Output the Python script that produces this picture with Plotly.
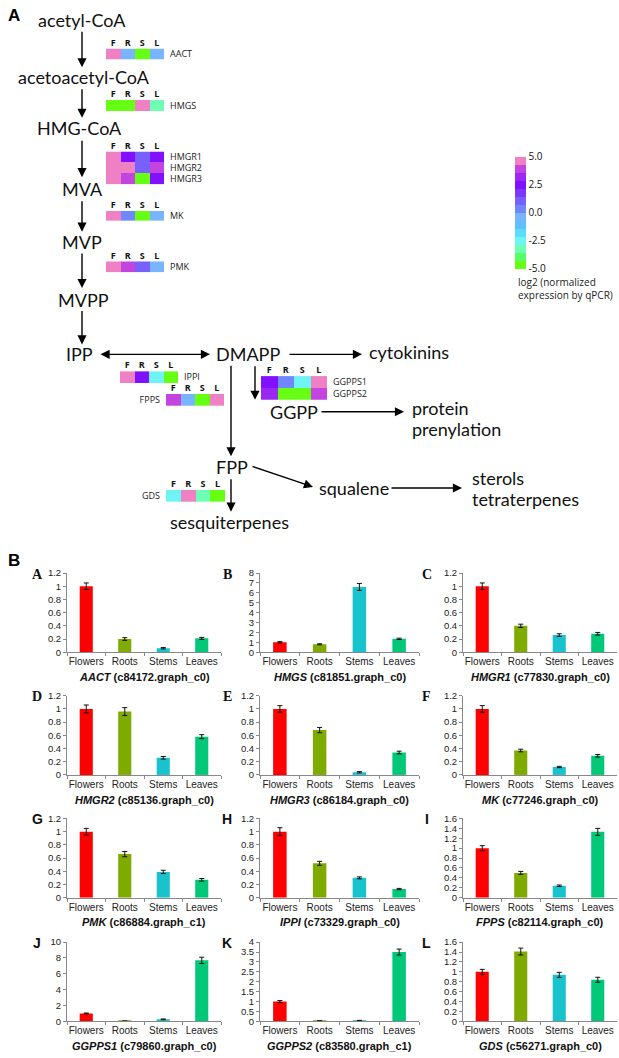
import plotly.graph_objects as go

W, H = 619, 1058


def X(px):
    return px / W


def Y(py):
    return 1 - py / H


# ---------------- Part A: heatmap data (log2 normalized expression) ----------------
samples = ["F", "R", "S", "L"]
AACT = [5.0, -0.5, -5.0, -0.5]
HMGS = [-4.8, -5.0, 5.0, -3.5]
HMGR1 = [5.0, 2.5, 1.2, 2.5]
HMGR2 = [5.0, 5.0, 1.2, 3.8]
HMGR3 = [5.0, 3.8, -5.0, 2.5]
MK = [5.0, 0.5, -5.0, -0.5]
PMK = [5.0, 3.8, 1.2, -0.5]
IPPI = [5.0, 2.5, -2.5, -5.0]
GGPPS1 = [2.5, 0.5, -2.5, 5.0]
GGPPS2 = [3.0, -5.0, -5.0, 3.8]
FPPS = [3.8, -0.5, -5.0, 5.0]
GDS = [-2.5, 5.0, -3.5, -5.0]

cbar_ticks = [-5.0, -2.5, 0.0, 2.5, 5.0]
cbar_labels = ["-5.0", "-2.5", "0.0", "2.5", "5.0"]

# ---------------- Part B: qPCR relative expression ----------------
tissues = ["Flowers", "Roots", "Stems", "Leaves"]
AACT_expr = [1.0, 0.20, 0.06, 0.21]
AACT_err = [0.05, 0.02, 0.01, 0.015]
HMGS_expr = [1.0, 0.80, 6.6, 1.35]
HMGS_err = [0.07, 0.05, 0.35, 0.07]
HMGR1_expr = [1.0, 0.40, 0.26, 0.28]
HMGR1_err = [0.05, 0.025, 0.02, 0.02]
HMGR2_expr = [1.0, 0.96, 0.26, 0.58]
HMGR2_err = [0.06, 0.06, 0.02, 0.03]
HMGR3_expr = [1.0, 0.68, 0.04, 0.34]
HMGR3_err = [0.05, 0.04, 0.01, 0.02]
MK_expr = [1.0, 0.37, 0.12, 0.29]
MK_err = [0.05, 0.02, 0.01, 0.02]
PMK_expr = [1.0, 0.66, 0.39, 0.27]
PMK_err = [0.05, 0.04, 0.025, 0.02]
IPPI_expr = [1.0, 0.52, 0.30, 0.13]
IPPI_err = [0.06, 0.03, 0.015, 0.01]
FPPS_expr = [1.0, 0.50, 0.24, 1.33]
FPPS_err = [0.05, 0.03, 0.015, 0.07]
GGPPS1_expr = [1.0, 0.03, 0.25, 7.7]
GGPPS1_err = [0.05, 0.01, 0.05, 0.4]
GGPPS2_expr = [1.0, 0.02, 0.04, 3.5]
GGPPS2_err = [0.05, 0.01, 0.01, 0.15]
GDS_expr = [1.0, 1.41, 0.94, 0.84]
GDS_err = [0.05, 0.07, 0.05, 0.05]

panel_letters = ["A", "B", "C", "D", "E", "F", "G", "H", "I", "J", "K", "L"]
panel_titles = [
    ("AACT", "c84172.graph_c0"), ("HMGS", "c81851.graph_c0"), ("HMGR1", "c77830.graph_c0"),
    ("HMGR2", "c85136.graph_c0"), ("HMGR3", "c86184.graph_c0"), ("MK", "c77246.graph_c0"),
    ("PMK", "c86884.graph_c1"), ("IPPI", "c73329.graph_c0"), ("FPPS", "c82114.graph_c0"),
    ("GGPPS1", "c79860.graph_c0"), ("GGPPS2", "c83580.graph_c1"), ("GDS", "c56271.graph_c0"),
]
panel_values = [AACT_expr, HMGS_expr, HMGR1_expr, HMGR2_expr, HMGR3_expr, MK_expr,
                PMK_expr, IPPI_expr, FPPS_expr, GGPPS1_expr, GGPPS2_expr, GDS_expr]
panel_errors = [AACT_err, HMGS_err, HMGR1_err, HMGR2_err, HMGR3_err, MK_err,
                PMK_err, IPPI_err, FPPS_err, GGPPS1_err, GGPPS2_err, GDS_err]
panel_ymax = [1.2, 8, 1.2, 1.2, 1.2, 1.2, 1.2, 1.2, 1.6, 10, 4, 1.6]
panel_dtick = [0.2, 1, 0.2, 0.2, 0.2, 0.2, 0.2, 0.2, 0.2, 2, 0.5, 0.2]

bar_colors = ["#FF0000", "#7FAA00", "#19C3CD", "#00C878"]

# ---------------- styling ----------------
step_colors = ["#66FF14", "#55FF66", "#6EFFB4", "#6EF4F4", "#5CDCFF", "#5EC0FF", "#78B4FF",
               "#7088FF", "#7860FF", "#7A38FF", "#8010FF", "#9A28F0", "#C444E0", "#F080C4"]
n = len(step_colors)
colorscale = []
for i, c in enumerate(step_colors):
    colorscale.append([i / n, c])
    colorscale.append([(i + 1) / n, c])

PATH_FONT = dict(family="Lato, Open Sans, sans-serif", size=18, color="#111")
SMALL_FONT = dict(family="Open Sans, sans-serif", size=10, color="#222")
ARIAL = "Liberation Sans, Arial, sans-serif"
SERIF = "Liberation Serif, Times New Roman, serif"

fig = go.Figure()
layout = dict(
    width=W, height=H, margin=dict(l=0, r=0, t=0, b=0),
    paper_bgcolor="white", plot_bgcolor="white", showlegend=False,
    coloraxis=dict(
        cmin=-5, cmax=5, colorscale=colorscale,
        colorbar=dict(
            x=X(515), xanchor="left", y=Y(209), yanchor="middle",
            lenmode="pixels", len=112, thickness=11, outlinewidth=0,
            tickvals=cbar_ticks, ticktext=cbar_labels, ticks="",
            tickfont=dict(family="Open Sans, sans-serif", size=10, color="#111"),
            xpad=0, ypad=0,
        ),
    ),
)

annotations = []
ax_id = [0]


def next_axes():
    ax_id[0] += 1
    i = ax_id[0]
    return i, ("xaxis" if i == 1 else f"xaxis{i}"), ("yaxis" if i == 1 else f"yaxis{i}"), \
        ("x" if i == 1 else f"x{i}"), ("y" if i == 1 else f"y{i}")


# heatmaps: rows, row labels, pixel box, label side
heatmaps = [
    ([AACT], ["AACT"], (106, 164, 43, 54), "right"),
    ([HMGS], ["HMGS"], (106, 164, 95, 106), "right"),
    ([HMGR1, HMGR2, HMGR3], ["HMGR1", "HMGR2", "HMGR3"], (106, 164, 147, 180), "right"),
    ([MK], ["MK"], (106, 164, 207, 217), "right"),
    ([PMK], ["PMK"], (106, 164, 258, 269), "right"),
    ([IPPI], ["IPPI"], (120, 178, 369, 381), "right"),
    ([GGPPS1, GGPPS2], ["GGPPS1", "GGPPS2"], (261, 327, 374, 398), "right"),
    ([FPPS], ["FPPS"], (166, 224, 392, 404), "left"),
    ([GDS], ["GDS"], (166, 225, 489, 501), "left"),
]

for k, (rows, labels, (x0, x1, y0, y1), side) in enumerate(heatmaps):
    i, xa, ya, xr, yr = next_axes()
    fig.add_trace(go.Heatmap(
        z=rows, x=samples, y=labels, coloraxis="coloraxis", xaxis=xr, yaxis=yr,
        hoverinfo="skip",
    ))
    layout[xa] = dict(domain=[X(x0), X(x1)], anchor=yr, side="top", showgrid=False,
                      zeroline=False, showline=False, ticks="", fixedrange=True,
                      tickmode="array", tickvals=samples, ticktext=samples,
                      ticklabelstandoff=0,
                      tickfont=dict(family="Open Sans, sans-serif", size=9, color="#111", weight="bold"))
    layout[ya] = dict(domain=[Y(y1), Y(y0)], anchor=xr, side=side, showgrid=False,
                      zeroline=False, showline=False, ticks="", autorange="reversed",
                      tickmode="array", tickvals=labels, ticktext=labels,
                      ticklabelstandoff=5,
                      fixedrange=True, tickfont=dict(family="Open Sans, sans-serif", size=9, color="#222"))

# bar panels
col_x = [(67, 221), (260, 419), (463, 617)]
row_zero = [653, 777, 901, 1026]
letter_x = [37, 227, 427]
for p in range(12):
    r, c = divmod(p, 3)
    i, xa, ya, xr, yr = next_axes()
    x0, x1 = col_x[c]
    yb = row_zero[r]
    yt = yb - 80
    fig.add_trace(go.Bar(
        x=tissues, y=panel_values[p], marker=dict(color=bar_colors, line=dict(width=0)),
        error_y=dict(type="data", array=panel_errors[p], color="#111", thickness=1, width=2.5),
        xaxis=xr, yaxis=yr, width=0.34,
    ))
    layout[xa] = dict(domain=[X(x0), X(x1)], anchor=yr, showline=True, linecolor="#888",
                      linewidth=1, ticks="outside", ticklen=3, tickcolor="#888",
                      tickson="boundaries", showgrid=False, zeroline=False, tickangle=0,
                      tickfont=dict(family=ARIAL, size=10, color="#222"))
    layout[ya] = dict(domain=[Y(yb), Y(yt)], anchor=xr, range=[0, panel_ymax[p]],
                      dtick=panel_dtick[p], showline=True, linecolor="#888", linewidth=1,
                      ticks="outside", ticklen=3, tickcolor="#888", showgrid=False,
                      zeroline=False, tickfont=dict(family=ARIAL, size=9.5, color="#222"))
    gene, contig = panel_titles[p]
    annotations.append(dict(
        x=X((x0 + x1) / 2), y=Y(yb + 25), xref="paper", yref="paper", showarrow=False,
        text=f"<b><i>{gene}</i> ({contig})</b>", xanchor="center", yanchor="middle",
        font=dict(family=ARIAL, size=11, color="#111")))
    lf = SERIF if p < 6 else ARIAL
    annotations.append(dict(
        x=X(letter_x[c]), y=Y(yt + 1), xref="paper", yref="paper", showarrow=False,
        text=f"<b>{panel_letters[p]}</b>", xanchor="center", yanchor="middle",
        font=dict(family=lf, size=14, color="#111")))


def label(text, px, py, anchor="left", font=PATH_FONT):
    annotations.append(dict(x=X(px), y=Y(py), xref="paper", yref="paper", text=text,
                            showarrow=False, xanchor=anchor, yanchor="middle", font=font))


def arrow(xs, ys, xe, ye, both=False):
    a = dict(x=X(xe), y=Y(ye), xref="paper", yref="paper", ax=xs - xe, ay=ys - ye,
             axref="pixel", ayref="pixel", text="", showarrow=True, arrowhead=2,
             arrowsize=1.3, arrowwidth=1.4, arrowcolor="#000", standoff=0, startstandoff=0)
    if both:
        a.update(arrowside="end+start", startarrowhead=2, startarrowsize=1.3)
    annotations.append(a)


# section labels
label("<b>A</b>", 6, 10, font=dict(family=ARIAL, size=17, color="#000"))
label("<b>B</b>", 6, 560, font=dict(family=ARIAL, size=17, color="#000"))

# pathway text
label("acetyl-CoA", 82, 14, "center")
label("acetoacetyl-CoA", 84, 72, "center")
label("HMG-CoA", 79, 123, "center")
label("MVA", 82, 185, "center")
label("MVP", 82, 238, "center")
label("MVPP", 83, 297, "center")
label("IPP", 79, 352, "center")
label("DMAPP", 248, 352, "center")
label("cytokinins", 367, 350)
label("GGPP", 268, 410)
label("protein", 410, 406)
label("prenylation", 410, 427)
label("FPP", 232, 466, "center")
label("squalene", 317, 487)
label("sterols", 470, 477)
label("tetraterpenes", 470, 498)
label("sesquiterpenes", 229, 521, "center")

# caption of colour key
label("log2 (normalized", 516, 279, font=SMALL_FONT)
label("expression by qPCR)", 516, 292, font=SMALL_FONT)

# arrows
arrow(82, 25, 82, 62)
arrow(82, 83, 82, 113)
arrow(82, 135, 82, 173)
arrow(82, 196, 82, 228)
arrow(82, 249, 82, 285)
arrow(82, 307, 82, 342)
arrow(99, 352, 210, 352, both=True)
arrow(288, 352, 362, 352)
arrow(231, 363, 231, 455)
arrow(255, 363, 255, 398)
arrow(320, 410, 404, 410)
arrow(251, 465, 313, 486)
arrow(390, 487, 462, 487)
arrow(231, 477, 231, 511)

layout["annotations"] = annotations
fig.update_layout(**layout)
fig.write_html(
    "out.html",
    config={"displayModeBar": False},
    post_script="document.body.style.margin='0px';document.body.style.overflow='hidden';",
)
